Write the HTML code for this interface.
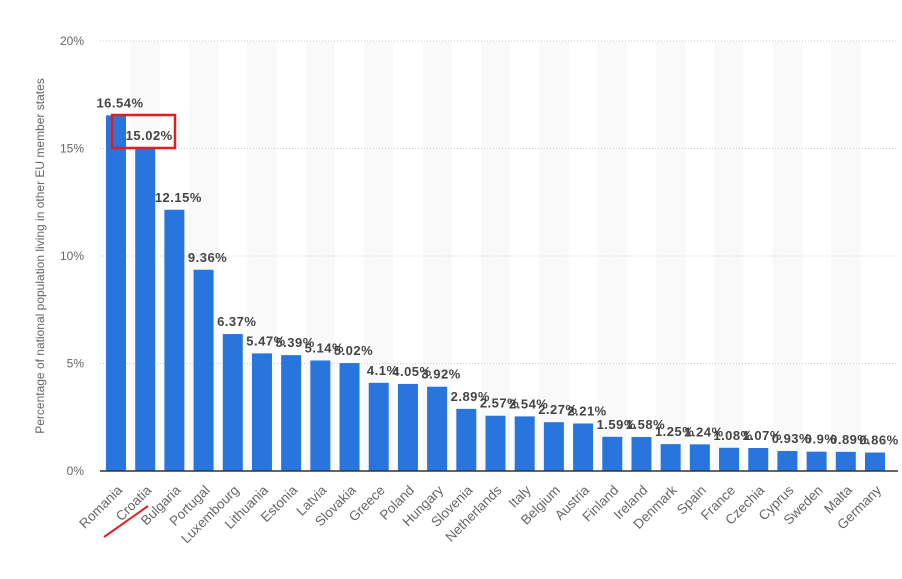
<!DOCTYPE html>
<html><head><meta charset="utf-8"><style>
body{margin:0;background:#fff;font-family:"Liberation Sans",sans-serif}
svg{display:block}
</style></head><body>
<svg id="chart" width="902" height="579" xmlns="http://www.w3.org/2000/svg">
<g id="stripes"></g><g id="grid"></g><g id="bars"></g><g id="vals"></g><g id="xl"></g>
<line x1="100" y1="471" x2="898" y2="471" stroke="#333" stroke-width="1.5"/>
<text transform="translate(44,256) rotate(-90)" text-anchor="middle" font-size="12" fill="#666">Percentage of national population living in other EU member states</text>
<rect x="112" y="115" width="63" height="33" fill="none" stroke="#e02020" stroke-width="2.5"/>
<line x1="104" y1="537" x2="148" y2="506" stroke="#e02020" stroke-width="2"/>
</svg>
<script>
const categories=["Romania","Croatia","Bulgaria","Portugal","Luxembourg","Lithuania","Estonia","Latvia","Slovakia","Greece","Poland","Hungary","Slovenia","Netherlands","Italy","Belgium","Austria","Finland","Ireland","Denmark","Spain","France","Czechia","Cyprus","Sweden","Malta","Germany"];
const values=[16.54,15.02,12.15,9.36,6.37,5.47,5.39,5.14,5.02,4.1,4.05,3.92,2.89,2.57,2.54,2.27,2.21,1.59,1.58,1.25,1.24,1.08,1.07,0.93,0.9,0.89,0.86];
const yTicks=[0,5,10,15,20];
const NS="http://www.w3.org/2000/svg";
const y=v=>471-v*(430/20);
const step=(875-116)/(categories.length-1);
const x=i=>116+i*step;
function mk(t,a,p){const e=document.createElementNS(NS,t);for(const k in a)e.setAttribute(k,a[k]);document.getElementById(p).appendChild(e);return e;}
categories.forEach((c,i)=>{
 if(i%2==1){const s=mk('rect',{x:x(i)-step/2,y:41,width:step,height:430,fill:'#f9f9f9'},'stripes');
 
 }
});
yTicks.forEach(t=>{
 const l=mk('line',{x1:100,x2:898,y1:y(t),y2:y(t),stroke:'#ccc','stroke-dasharray':'1,2'},'grid');
 
 
 const tx=mk('text',{x:84,y:y(t)+4,'text-anchor':'end','font-size':12,fill:'#666'},'grid');tx.textContent=t+'%';
 
 
});
categories.forEach((c,i)=>{
 const v=values[i];
 const b=mk('rect',{x:x(i)-10,y:y(v),width:20,height:471-y(v),fill:'#2876dd'},'bars');
 
 
 const t=mk('text',{x:x(i)+4,y:y(v)-8,'text-anchor':'middle','font-size':13,'font-weight':'bold','letter-spacing':'0.5',fill:'#444'},'vals');t.textContent=v+'%';
 
 
 const l=mk('text',{transform:`translate(${x(i)+7},491) rotate(-45)`,'text-anchor':'end','font-size':13.5,fill:'#666'},'xl');l.textContent=c;
 
 
});
</script>
</body></html>
